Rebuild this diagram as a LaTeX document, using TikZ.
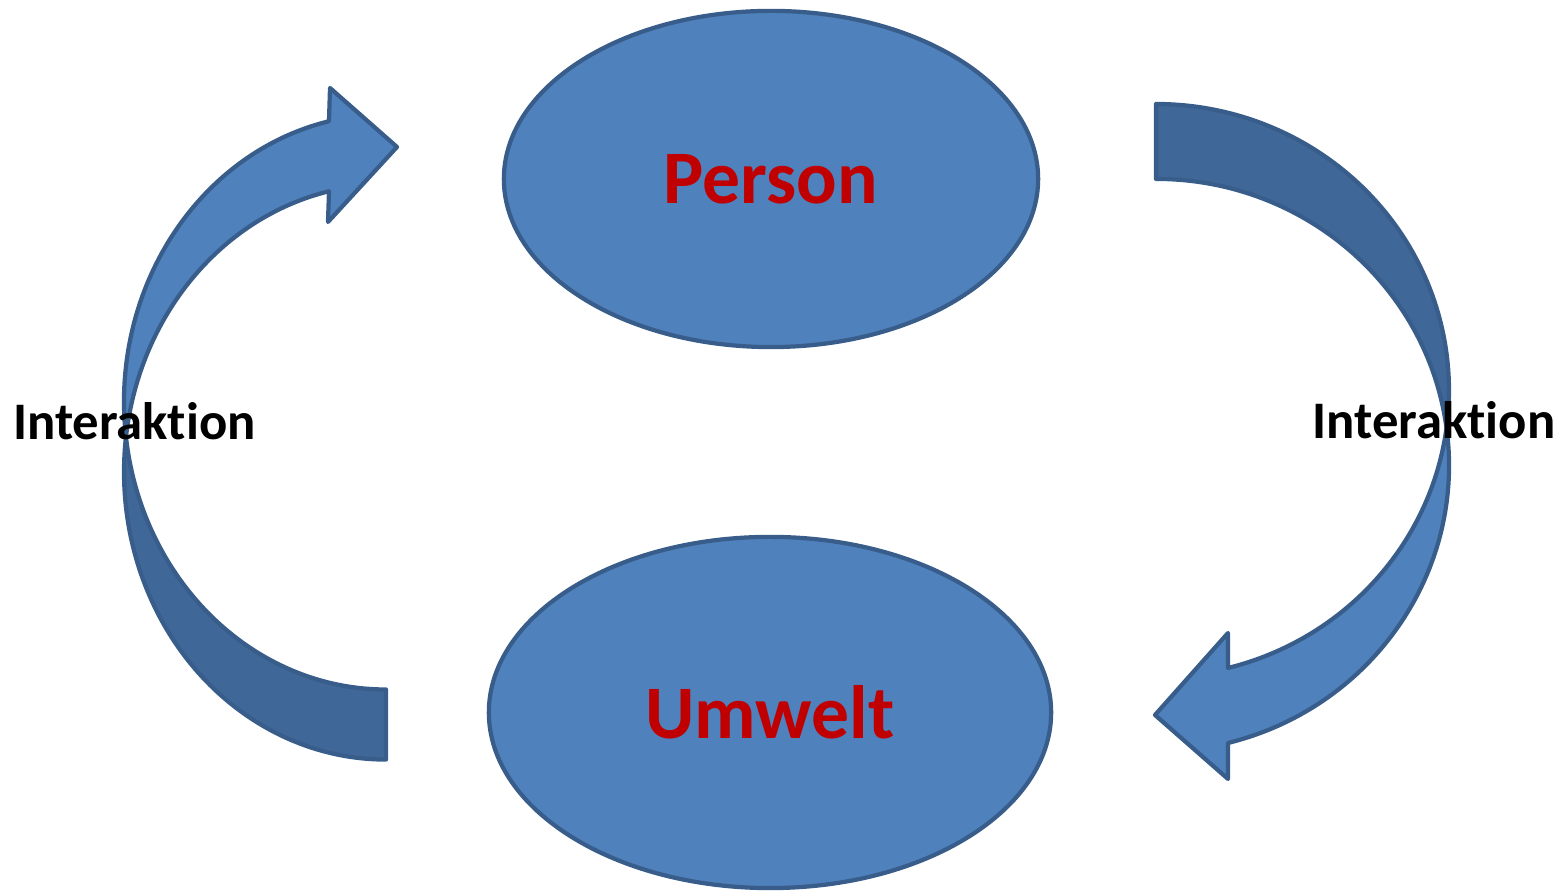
\documentclass[tikz,border=0pt]{standalone}
\usepackage{fontspec}
\setmainfont{Carlito}[RawFeature=-liga]
\usetikzlibrary{shapes.geometric}
\definecolor{boxblue}{HTML}{4F81BD}
\definecolor{edgeblue}{HTML}{385D8A}
\definecolor{backblue}{HTML}{3F6797}
\definecolor{wordred}{HTML}{C00000}

\begin{document}
\begin{tikzpicture}[x=0.01cm,y=0.01cm,
    blob/.style={ellipse, draw=edgeblue, fill=boxblue, line width=1.2pt, inner sep=0pt,
      text=wordred, font=\fontsize{21.5}{26}\selectfont\bfseries},
    front/.style={fill=boxblue, draw=edgeblue, line width=1.2pt, line join=round},
    back/.style={fill=backblue, draw=edgeblue, line width=1.2pt, line join=round},
    lbl/.style={anchor=base, font=\fontsize{15}{18}\selectfont\bfseries}]
    \useasboundingbox (0,0) rectangle (1566,892);
    % ellipses
    \node[blob, minimum width=5.34cm, minimum height=3.36cm] (person) at (771,713) {Person};
    \node[blob, minimum width=5.62cm, minimum height=3.51cm] (umwelt) at (770,179.5) {Umwelt};
    % left arrow (up to Person)
    \fill[back] (386,132.4) arc[start angle=270, end angle=173, x radius=262, y radius=287.6]
      arc[start angle=187, end angle=270, x radius=262, y radius=287.6] -- cycle;
    \fill[front] (125.95,455) arc[start angle=187, end angle=102.57, x radius=262, y radius=287.6]
      -- (330,804) -- (397,745) -- (328,670) -- (329,700.7)
      arc[start angle=102.57, end angle=173, x radius=262, y radius=287.6] -- cycle;
    % right arrow (down to Umwelt)
    \fill[back] (1156,788) arc[start angle=90, end angle=-7.52, x radius=293, y radius=286.4]
      arc[start angle=7.52, end angle=90, x radius=293, y radius=286.4] -- cycle;
    \fill[front] (1446.5,464.1) arc[start angle=7.52, end angle=-75.78, x radius=293, y radius=286.4]
      -- (1228,113) -- (1155,177) -- (1228,259) -- (1228,224)
      arc[start angle=-75.78, end angle=-7.52, x radius=293, y radius=286.4] -- cycle;
    % labels
    \node[lbl] (intl) at (134.5,452) {Interaktion};
    \node[lbl] (intr) at (1434,453) {Interaktion};
\end{tikzpicture}
\end{document}
